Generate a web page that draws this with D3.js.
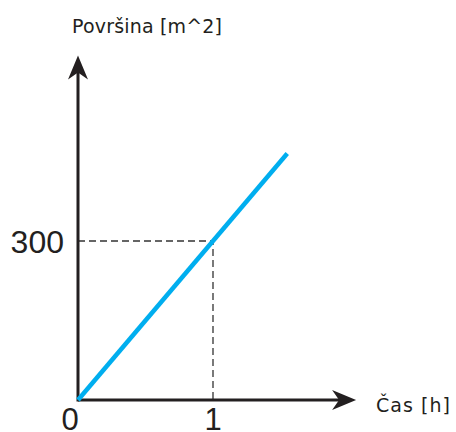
<!DOCTYPE html>
<html>
<head>
<meta charset="UTF-8">
<script src="https://d3js.org/d3.v7.min.js"></script>
<style>
  body { margin: 0; background: #fff; }
  text { font-family: "DejaVu Sans", sans-serif; fill: #231f20; }
</style>
</head>
<body>
<svg id="canvas"></svg>
<script>
// data
const time = [0, 1.55];          // h
const area = [0, 465];           // m^2
const refTime = [1];
const refArea = [300];
const xTicks = [0, 1];
const yTicks = [300];
const xLabel = "Čas [h]";
const yLabel = "Površina [m^2]";

const width = 456, height = 432;
const svg = d3.select("#canvas").attr("width", width).attr("height", height);

const x = d3.scaleLinear().domain([0, 1]).range([78, 213]);
const y = d3.scaleLinear().domain([0, 300]).range([400, 241]);

const xEnd = 2.06, yEnd = 650;   // axis extents (data units)

// reference dashes
svg.append("path")
  .attr("d", `M${x(0)},${y(refArea[0])}H${x(refTime[0])}V${y(0)}`)
  .attr("fill", "none")
  .attr("stroke", "#333")
  .attr("stroke-width", 1.3)
  .attr("stroke-dasharray", "7,4");

// axes
const axisColor = "#231f20";
svg.append("line")
  .attr("x1", x(0)).attr("y1", y(0))
  .attr("x2", x(xEnd) - 12).attr("y2", y(0))
  .attr("stroke", axisColor).attr("stroke-width", 3);
svg.append("line")
  .attr("x1", x(0)).attr("y1", y(0) + 1.5)
  .attr("x2", x(0)).attr("y2", y(yEnd) + 12)
  .attr("stroke", axisColor).attr("stroke-width", 3);

// arrow heads
const xt = x(xEnd), yt = y(yEnd);
svg.append("path")
  .attr("d", `M${xt},${y(0)}L${xt - 24},${y(0) - 10}L${xt - 17},${y(0)}L${xt - 24},${y(0) + 10}Z`)
  .attr("fill", axisColor);
svg.append("path")
  .attr("d", `M${x(0)},${yt}L${x(0) - 10},${yt + 24}L${x(0)},${yt + 17}L${x(0) + 10},${yt + 24}Z`)
  .attr("fill", axisColor);

// data line
const line = d3.line().x((d, i) => x(time[i])).y(d => y(d));
svg.append("path")
  .datum(area)
  .attr("d", line)
  .attr("fill", "none")
  .attr("stroke", "#00aeef")
  .attr("stroke-width", 4.5)
  .attr("stroke-linecap", "butt");

// tick labels
svg.selectAll(".xt").data(xTicks).enter().append("text")
  .attr("class", "xt")
  .attr("x", (d, i) => i === 0 ? x(d) - 8 : x(d))
  .attr("y", 430)
  .attr("text-anchor", "middle")
  .style("font-family", "'Liberation Sans', Arial, sans-serif")
  .style("font-size", "31px")
  .text(d => d);

svg.selectAll(".yt").data(yTicks).enter().append("text")
  .attr("class", "yt")
  .attr("x", 64)
  .attr("y", d => y(d) + 11.5)
  .attr("text-anchor", "end")
  .style("font-family", "'Liberation Sans', Arial, sans-serif")
  .style("font-size", "32px")
  .text(d => d);

// axis titles
svg.append("text")
  .attr("x", 72).attr("y", 33)
  .style("font-size", "19px")
  .attr("textLength", 150)
  .text(yLabel);
svg.append("text")
  .attr("x", 376).attr("y", 412)
  .style("font-size", "19px")
  .attr("textLength", 74)
  .text(xLabel);
</script>
</body>
</html>
